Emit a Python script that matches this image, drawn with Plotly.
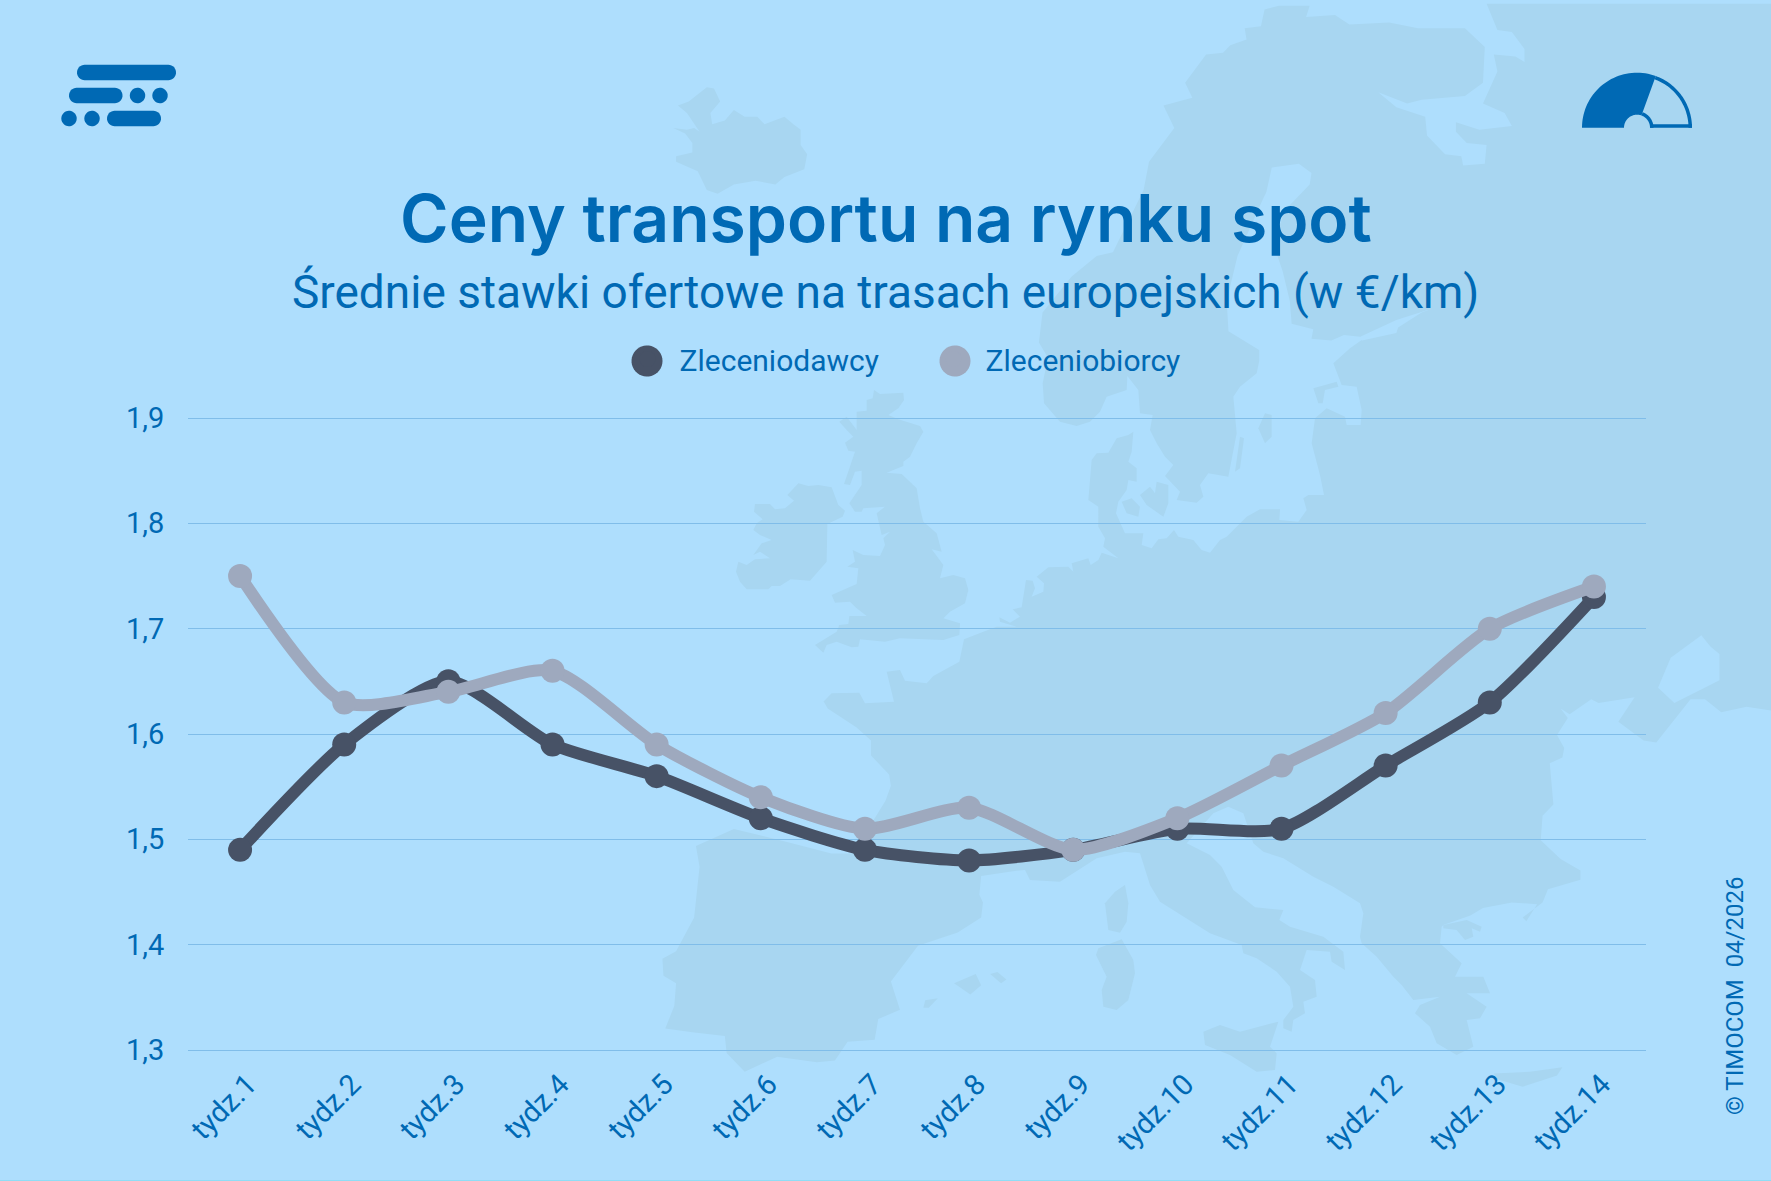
import numpy as np
import plotly.graph_objects as go

W, H = 1771, 1181

weeks = ['tydz.1', 'tydz.2', 'tydz.3', 'tydz.4', 'tydz.5', 'tydz.6', 'tydz.7',
         'tydz.8', 'tydz.9', 'tydz.10', 'tydz.11', 'tydz.12', 'tydz.13', 'tydz.14']
zleceniodawcy = [1.49, 1.59, 1.65, 1.59, 1.56, 1.52, 1.49, 1.48, 1.49, 1.51, 1.51, 1.57, 1.63, 1.73]
zleceniobiorcy = [1.75, 1.63, 1.64, 1.66, 1.59, 1.54, 1.51, 1.53, 1.49, 1.52, 1.57, 1.62, 1.70, 1.74]
y_ticks = [1.3, 1.4, 1.5, 1.6, 1.7, 1.8, 1.9]

BG = '#AEDEFD'
LAND = '#A8D6F1'
BLUE = '#0069B4'
GRID = '#80BDE9'
DARK = '#475266'
LIGHT = '#9EA9BE'
FONT = 'Roboto'

# map outline, one list per looked-at crop
Z6 = (640, 0, 2.77, 2.657)
Z7 = (1205, 0, 2.77, 2.657)
Z8 = (640, 590, 2.77, 2.657)
Z9 = (1205, 590, 2.77, 2.657)
Z10 = (720, 380, 3, 3)
Z11 = (1040, 340, 3, 3)
Z12 = (1000, 780, 3, 3)

def crop(z, pts):
   return [(z[0] + x / z[2], z[1] + y / z[3]) for x, y in pts]

north_coast = crop(Z10, [(310,965),(335,940),(418,938),(435,970),(522,965),(500,875),(540,870),(555,902),(620,910),(640,888),(718,845),(732,778),(790,755),(830,740),(890,740),(840,725),(838,712),(870,728),(900,710),(878,688),(905,682),(918,600),(938,602),(945,625),(935,650),(970,635),(972,610),(950,590),(985,562),(1045,560),(1060,575),(1055,550),(1105,535),(1112,555),(1135,540),(1145,518),(1195,535),(1150,500),(1155,475),(1135,440),(1135,380),(1105,360),(1115,240),(1130,220),(1165,218),(1190,175),(1225,165),(1240,155),(1235,215),(1225,245),(1250,265),(1250,305),(1225,300),(1220,330),(1195,365),(1188,400),(1215,460),(1270,460),(1265,495),(1295,505),(1315,478),(1340,475),(1362,450),(1375,470),(1420,480),(1445,510),(1470,518),(1500,480)])
baltic = crop(Z11, [(560,590),(620,530),(660,508),(720,508),(718,540),(775,545),(800,510),(790,475),(805,465),(852,465),(840,405),(815,310),(825,235),(860,205),(915,230),(920,255),(962,255),(965,210),(950,140),(905,135),(880,70),(930,25),(965,0)])
bothnia = crop(Z7, [(435,905),(530,885),(535,870),(600,830),(630,820),(530,850),(430,895),(385,890),(350,905),(295,900),(300,875),(240,860),(235,800),(215,720),(190,650),(220,560),(290,490),(295,460),(260,435),(185,445),(170,510),(160,530),(90,680),(60,800),(65,880),(150,930),(150,960)])
sweden = crop(Z11, [(650,100),(600,140),(580,170),(590,280),(565,410),(505,400),(480,435),(490,470),(470,488),(410,480),(420,455),(375,408),(400,375),(375,350),(350,310),(330,270),(338,225),(300,220),(295,150),(262,108),(260,150),(200,170),(180,215),(150,245),(110,258),(60,245),(12,190),(8,130)])
norway = crop(Z6, [(1115,1020),(1130,950),(1105,910),(1115,830),(1195,735),(1265,680),(1310,670),(1395,505),(1410,430),(1480,340),(1450,280),(1530,260),(1510,220),(1568,145)])
kola = crop(Z7, [(50,140),(70,120),(115,105),(110,75),(155,70),(165,25),(205,15),(290,15),(280,45),(360,40),(400,65),(510,60),(590,75),(720,75),(775,125),(770,220),(720,255),(600,265),(560,275),(480,245),(530,285),(610,310),(615,360),(665,410),(710,415),(715,440),(775,435),(780,385),(725,380),(695,350),(695,325),(760,345),(850,335),(830,300),(770,275),(810,190),(800,145),(860,150),(885,165),(885,130),(850,85),(810,80),(780,10),(1568,10)])
black_sea = crop(Z9, [(1568,320),(1500,310),(1430,325),(1385,290),(1345,290),(1300,345),(1250,405),(1215,400),(1145,350),(1190,285),(1090,300),(1070,290),(1010,330),(985,315),(1005,340),(975,385),(995,420),(990,445),(955,460),(965,570),(935,600),(930,665),(985,715),(1040,745),(1040,770),(950,795),(935,830),(880,870),(890,880),(920,835),(850,830),(770,845),(735,865),(660,890)])
greece_italy = crop(Z12, [(1325,440),(1320,490),(1385,550),(1365,590),(1450,590),(1470,640),(1400,640),(1460,680),(1440,715),(1400,720),(1420,800),(1370,825),(1310,790),(1290,740),(1245,700),(1260,675),(1320,650),(1240,660),(1205,615),(1180,590),(1130,530),(1085,490),(1080,470),(1090,400),(1080,370),(1000,320),(940,290),(850,235),(790,215),(760,190),(730,100),(685,80),(640,100),(560,190),(630,225),(665,260),(700,330),(765,382),(850,390),(838,420),(870,440),(970,470),(1030,515),(1035,570),(995,545),(990,515),(920,510),(900,570),(945,600),(950,650),(910,665),(915,700),(880,720),(875,755),(850,745),(850,720),(880,680),(870,620),(830,575),(770,535),(730,520),(725,495),(630,460),(480,365),(450,315),(420,220),(375,215),(290,235),(180,305),(90,300),(75,270)])
iberia = crop(Z8, [(1050,745),(945,760),(940,810),(950,830),(945,870),(880,910),(770,945),(695,1040),(720,1115),(660,1140),(650,1195),(575,1200),(540,1250),(490,1255),(380,1240),(290,1280),(240,1230),(235,1185),(145,1175),(70,1165),(95,1105),(100,1045),(65,1025),(62,980),(100,960),(150,870),(165,735),(155,680),(260,635),(410,670),(530,700),(590,700),(680,560),(695,520),(690,490),(640,440),(640,400),(600,365),(520,315),(508,295)])
mainland = north_coast + baltic + bothnia + sweden + norway + kola + [(W, 3.6)] + black_sea + greece_italy + iberia

islands = [
   crop(Z6, [(105,280),(135,270),(185,232),(205,235),(222,270),(195,300),(200,330),(235,320),(260,292),(290,310),(325,310),(345,330),(400,310),(425,330),(445,345),(445,385),(463,410),(455,450),(400,470),(375,490),(320,480),(260,490),(215,515),(185,505),(160,455),(100,430),(100,415),(145,405),(145,380),(125,355),(92,340),(130,345),(150,340),(165,350),(130,300)]),
   crop(Z10, [(48,575),(55,545),(80,555),(105,538),(150,535),(120,515),(100,525),(125,490),(155,480),(120,465),(100,450),(110,430),(128,418),(102,395),(105,372),(150,372),(165,388),(195,385),(222,362),(202,345),(235,310),(265,318),(295,315),(335,322),(355,375),(375,392),(368,410),(322,432),(320,545),(270,602),(212,598),(180,618),(155,618),(145,628),(80,628),(60,605)]),
   crop(Z10, [(462,30),(480,42),(550,38),(552,60),(535,85),(505,105),(535,118),(600,138),(610,155),(590,190),(570,230),(550,245),(550,258),(500,278),(545,282),(590,325),(600,385),(610,425),(650,460),(665,515),(635,508),(670,555),(660,595),(700,585),(735,595),(745,630),(735,670),(690,695),(670,715),(720,730),(718,765),(670,780),(540,775),(495,785),(420,778),(415,800),(395,802),(350,785),(320,795),(310,818),(285,795),(350,755),(358,735),(385,732),(388,708),(440,708),(485,688),(440,708),(410,685),(390,665),(345,668),(335,645),(410,612),(415,565),(382,560),(405,545),(398,510),(430,525),(480,528),(495,495),(490,475),(510,455),(485,465),(470,400),(495,380),(430,385),(425,395),(405,395),(388,370),(425,315),(425,272),(405,275),(390,315),(372,312),(405,215),(385,212),(375,188),(400,170),(380,150),(358,125),(380,110),(410,150),(410,95),(440,92),(440,60),(458,55)]),
   crop(Z12, [(375,315),(385,370),(380,425),(360,458),(325,450),(315,370),(345,335)]),
   crop(Z12, [(365,478),(400,540),(405,580),(385,660),(350,690),(310,680),(305,630),(320,590),(288,525),(295,505)]),
   crop(Z12, [(835,725),(810,800),(830,820),(825,870),(770,875),(690,825),(615,795),(610,755),(660,735),(720,755)]),
   crop(Z12, [(1330,435),(1400,420),(1445,440),(1440,455),(1415,445),(1420,470),(1395,480),(1370,450),(1330,445)]),
   crop(Z8, [(870,1045),(930,1020),(945,1050),(915,1075)]),
   crop(Z8, [(970,1020),(990,1015),(1015,1035),(1000,1045)]),
   crop(Z8, [(785,1110),(790,1090),(825,1085),(800,1110)]),
   crop(Z9, [(800,1285),(900,1280),(990,1268),(975,1290),(880,1320),(810,1300)]),
   crop(Z11, [(675,220),(695,225),(695,290),(675,310),(655,265)]),
   crop(Z11, [(600,290),(612,295),(600,385),(585,395)]),
   crop(Z11, [(820,145),(890,125),(895,140),(855,150),(848,190),(835,190)]),
   crop(Z11, [(245,485),(275,475),(300,500),(295,530),(260,520)]),
   crop(Z11, [(300,465),(330,440),(345,460),(350,425),(385,435),(385,490),(370,530),(320,495)]),
]
azov = crop(Z9, [(1460,75),(1375,120),(1400,150),(1425,170),(1425,240),(1380,262),(1300,300),(1255,260),(1290,180),(1375,120)])

def path(pts):
   return 'M' + ' L'.join(f'{x / W:.5f},{1 - y / H:.5f}' for x, y in pts) + ' Z'

def arc(cx, cy, r, a0, a1, n=40):
   a = np.radians(np.linspace(a0, a1, n))
   return list(zip(cx + r * np.cos(a), cy - r * np.sin(a)))

def pill(x0, x1, yc, r):
   return arc(x0 + r, yc, r, 90, 270, 16) + arc(x1 - r, yc, r, 270, 450, 16)

def filled(pts, color, layer='below'):
   return dict(type='path', path=path(pts), xref='paper', yref='paper',
               fillcolor=color, line_width=0, layer=layer)

shapes = [filled(mainland, LAND)]
shapes += [filled(p, LAND) for p in islands]
shapes.append(filled(azov, BG))
shapes.append(dict(type='line', xref='paper', yref='paper', x0=0, x1=1,
                   y0=1 - 1180.5 / H, y1=1 - 1180.5 / H, line=dict(color='#8FDDF5', width=1), layer='below'))

# logo top left
for x0, x1, yc in [(77, 176, 72.5), (69, 122.5, 95.5), (107, 161, 118.5)]:
   shapes.append(filled(pill(x0, x1, yc, 7.7), BLUE))
for cx, cy in [(137.5, 95.5), (160, 95.5), (69, 118.5), (92, 118.5)]:
   shapes.append(filled(arc(cx, cy, 7.7, 0, 360), BLUE))

# gauge top right
gx, gy = 1637, 127.7
shapes.append(filled(arc(gx, gy, 55, 180, 70) + arc(gx, gy, 13, 70, 180), BLUE))
shapes.append(filled(arc(gx, gy, 55, 70, 0) + arc(gx, gy, 51.5, 0, 70), BLUE))
shapes.append(filled(arc(gx, gy, 16.5, 70, 0) + arc(gx, gy, 13, 0, 70), BLUE))
shapes.append(filled([(gx + 13, gy), (gx + 55, gy), (gx + 55, gy - 3.5), (gx + 13, gy - 3.5)], BLUE))

# plotly caps legend markers at 16px, so the big dots sit on top of them
shapes.append(filled(arc(647, 361, 15.5, 0, 360), DARK, 'above'))
shapes.append(filled(arc(955, 361, 15.5, 0, 360), LIGHT, 'above'))

fig = go.Figure()

fig.add_trace(go.Scatter(x=weeks, y=zleceniodawcy, mode='lines+markers', showlegend=False,
                         line=dict(color=DARK, width=12, shape='spline', smoothing=0.7),
                         marker=dict(color=DARK, size=24)))
fig.add_trace(go.Scatter(x=weeks, y=zleceniobiorcy, mode='lines+markers', showlegend=False,
                         line=dict(color=LIGHT, width=12, shape='spline', smoothing=0.7),
                         marker=dict(color=LIGHT, size=24)))
# legend shows only the dots
fig.add_trace(go.Scatter(x=[None], y=[None], mode='markers', name='Zleceniodawcy',
                         marker=dict(color=DARK, size=16)))
fig.add_trace(go.Scatter(x=[None], y=[None], mode='markers', name='Zleceniobiorcy',
                         marker=dict(color=LIGHT, size=16)))

annotations = [
   dict(text='Ceny transportu na rynku spot', x=885.5 / W, y=1 - 218 / H, font=dict(size=66, family='Inter', weight=600)),
   dict(text='Średnie stawki ofertowe na trasach europejskich (w €/km)', x=885 / W, y=1 - 292 / H, font=dict(size=46, family=FONT)),
   dict(text='© TIMOCOM  04/2026', x=1735 / W, y=1 - 996 / H, textangle=-90, font=dict(size=24, family=FONT)),
]
for a in annotations:
   a.update(xref='paper', yref='paper', showarrow=False, xanchor='center', yanchor='middle')
   a['font'].update(color=BLUE)

fig.update_layout(
   width=W, height=H, autosize=False,
   margin=dict(l=0, r=0, t=0, b=0, pad=0, autoexpand=False),
   paper_bgcolor=BG, plot_bgcolor='rgba(0,0,0,0)',
   separators=', ',
   font=dict(family=FONT, color=BLUE),
   shapes=shapes,
   annotations=annotations,
   legend=dict(orientation='h', x=615.5 / W, xanchor='left', y=1 - 359 / H, yanchor='middle',
               bgcolor='rgba(0,0,0,0)', font=dict(size=30, color=BLUE, family=FONT),
               itemwidth=54, entrywidth=237, entrywidthmode='pixels'),
   xaxis=dict(domain=[188 / W, 1646 / W], range=[-0.5, 13.5], type='category',
              categoryorder='array', categoryarray=weeks,
              showgrid=False, showline=False, zeroline=False, ticks='',
              tickangle=-45, tickfont=dict(size=29, color=BLUE),
              ticklabelstandoff=0, ticklabelshift=8),
   # range runs a little past 1.3 and 1.9 so their grid lines get drawn
   yaxis=dict(domain=[1 - 1060.53 / H, 1 - 407.47 / H], range=[1.29, 1.91],
              tickvals=y_ticks, tickformat='.1f',
              showgrid=True, gridcolor=GRID, gridwidth=1.3, showline=False, zeroline=False,
              ticks='outside', ticklen=17, tickcolor='rgba(0,0,0,0)',
              tickfont=dict(size=29, color=BLUE)),
)

fig.write_html('out.html', config=dict(displayModeBar=False),
               post_script="document.body.style.margin='0';document.body.style.overflow='hidden';")
